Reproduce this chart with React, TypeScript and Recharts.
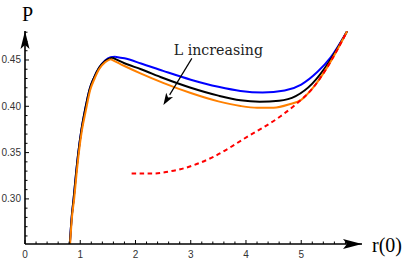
import { LineChart, Line, XAxis, YAxis, ReferenceDot, ReferenceLine } from "recharts";

// tick labels
const xMajorTicks = [0, 1, 2, 3, 4, 5];
const yMajorTicks = [0.3, 0.35, 0.4, 0.45];
const xMinorTicks = Array.from({ length: 30 }, (_, i) => +(i * 0.2).toFixed(1));
const yMinorTicks = Array.from({ length: 23 }, (_, i) => +(0.26 + i * 0.01).toFixed(2));

// blue curve (smallest L)
const blueX = [0.81, 0.845, 0.88, 0.92, 0.965, 1.02, 1.09, 1.17, 1.25, 1.34, 1.45, 1.55, 1.63, 1.8, 2.1, 2.5, 3.0, 3.5, 3.9, 4.3, 4.7, 5.0, 5.3, 5.53, 5.83];
const blueY = [0.25, 0.28, 0.3, 0.325, 0.35, 0.374, 0.397, 0.4185, 0.431, 0.4415, 0.4495, 0.453, 0.4536, 0.4518, 0.4462, 0.4382, 0.4287, 0.421, 0.4165, 0.4148, 0.417, 0.4235, 0.4375, 0.4525, 0.481];

// black curve
const blackX = [0.81, 0.845, 0.88, 0.92, 0.965, 1.02, 1.09, 1.17, 1.25, 1.34, 1.45, 1.58, 1.8, 2.1, 2.5, 3.0, 3.5, 3.9, 4.25, 4.6, 4.9, 5.2, 5.5, 5.83];
const blackY = [0.25, 0.28, 0.3, 0.325, 0.35, 0.374, 0.397, 0.4185, 0.431, 0.4415, 0.449, 0.4525, 0.4465, 0.44, 0.4305, 0.42, 0.4115, 0.4065, 0.405, 0.406, 0.411, 0.4245, 0.4475, 0.481];

// orange curve (largest L)
const orangeX = [0.815, 0.85, 0.89, 0.93, 0.975, 1.03, 1.1, 1.18, 1.26, 1.34, 1.45, 1.55, 1.8, 2.1, 2.5, 3.0, 3.5, 3.9, 4.2, 4.5, 4.8, 5.0, 5.2, 5.5, 5.83];
const orangeY = [0.25, 0.28, 0.3, 0.325, 0.35, 0.374, 0.395, 0.4175, 0.43, 0.44, 0.4475, 0.451, 0.4435, 0.4353, 0.4253, 0.4143, 0.4053, 0.4003, 0.3985, 0.3985, 0.4025, 0.407, 0.419, 0.445, 0.481];

// red dashed curve
const redX = [1.93, 2.32, 2.6, 2.81, 3.41, 4.02, 4.62, 4.89, 5.2, 5.5, 5.83];
const redY = [0.3274, 0.3274, 0.3295, 0.332, 0.3454, 0.367, 0.389, 0.4015, 0.419, 0.445, 0.481];

const zip = (xs: number[], ys: number[]) => xs.map((x, i) => ({ x, y: ys[i] }));
const peakAt = (ys: number[]) => ys.indexOf(Math.max(...ys.slice(0, 15)));

const serif = "'Liberation Serif', 'Times New Roman', serif";
const sans = "'Liberation Sans', Arial, sans-serif";

const XTick = ({ x, y, payload }: any) => {
  const v = payload.value;
  const major = Math.abs(v - Math.round(v)) < 1e-6;
  return (
    <g>
      <line x1={x} y1={y} x2={x} y2={y - (major ? 4 : 2.5)} stroke="#000" strokeWidth={1} />
      {major && (
        <text x={x} y={y + 14} textAnchor="middle" fontSize={10} fontFamily={sans} fill="#333">
          {v}
        </text>
      )}
    </g>
  );
};

const YTick = ({ x, y, payload }: any) => {
  const v = payload.value;
  const major = yMajorTicks.some((m) => Math.abs(m - v) < 1e-6);
  return (
    <g>
      <line x1={x} y1={y} x2={x + (major ? 4 : 2.5)} y2={y} stroke="#000" strokeWidth={1} />
      {major && (
        <text x={x - 4} y={y + 3.5} textAnchor="end" fontSize={10} fontFamily={sans} fill="#333">
          {v.toFixed(2)}
        </text>
      )}
    </g>
  );
};

// split at the peak so the corner there stays sharp
const curve = (key: string, xs: number[], ys: number[], color: string) => {
  const p = peakAt(ys);
  const common = { dataKey: "y", stroke: color, strokeWidth: 2, dot: false, isAnimationActive: false, type: "monotone" } as const;
  return [
    <Line key={key + "-rise"} {...common} data={zip(xs.slice(0, p + 1), ys.slice(0, p + 1))} />,
    <Line key={key + "-fall"} {...common} data={zip(xs.slice(p), ys.slice(p))} />,
  ];
};

export default function App() {
  return (
    <div style={{ position: "absolute", left: 0, top: 0, background: "#fff" }}>
      <LineChart width={405} height={261} margin={{ top: 31, right: 43, left: 0, bottom: 0 }}>
        <XAxis
          type="number"
          dataKey="x"
          domain={[0, 6.1]}
          ticks={[...xMajorTicks, ...xMinorTicks.filter((t) => !xMajorTicks.includes(t))].sort((a, b) => a - b)}
          interval={0}
          allowDataOverflow
          height={17}
          tickSize={0}
          tickMargin={0}
          tickLine={false}
          axisLine={{ stroke: "#000", strokeWidth: 1.6 }}
          tick={(p: any) => <XTick {...p} />}
        />
        <YAxis
          type="number"
          dataKey="y"
          domain={[0.2513, 0.4813]}
          ticks={yMinorTicks}
          interval={0}
          allowDataOverflow
          width={25}
          tickSize={0}
          tickMargin={0}
          tickLine={false}
          axisLine={{ stroke: "#000", strokeWidth: 1.6 }}
          tick={(p: any) => <YTick {...p} />}
        />
        {curve("blue", blueX, blueY, "#0000ff")}
        {curve("black", blackX, blackY, "#000000")}
        {curve("orange", orangeX, orangeY, "#ff8000")}
        <Line data={zip(redX, redY)} dataKey="y" type="monotone" stroke="#ff0000" strokeWidth={2} strokeDasharray="4.5 3.5" dot={false} isAnimationActive={false} />

        {/* annotation arrow */}
        <ReferenceLine
          segment={[{ x: 3.02, y: 0.4518 }, { x: 2.505, y: 0.4013 }]}
          ifOverflow="visible"
          shape={(p: any) => {
            const { x1, y1, x2, y2 } = p;
            const dx = x2 - x1, dy = y2 - y1;
            const len = Math.hypot(dx, dy);
            const ux = dx / len, uy = dy / len;
            const hl = 12, hw = 4;
            const bx = x2 - ux * hl, by = y2 - uy * hl;
            return (
              <g>
                <line x1={x1} y1={y1} x2={bx} y2={by} stroke="#000" strokeWidth={1.2} />
                <polygon
                  points={`${x2},${y2} ${bx - uy * hw},${by + ux * hw} ${x2 - ux * hl * 0.75},${y2 - uy * hl * 0.75} ${bx + uy * hw},${by - ux * hw}`}
                  fill="#000"
                />
              </g>
            );
          }}
        />
        <ReferenceDot
          x={3.5}
          y={0.4559}
          ifOverflow="visible"
          shape={(p: any) => (
            <text x={p.cx} y={p.cy} textAnchor="middle" fontSize={14.2} fontFamily="'DejaVu Serif', serif" fill="#222">
              L increasing
            </text>
          )}
        />
        {/* x axis arrowhead and label */}
        <ReferenceDot
          x={6.1}
          y={0.2513}
          ifOverflow="visible"
          shape={(p: any) => (
            <g>
              <polygon points={`${p.cx},${p.cy} ${p.cx - 19},${p.cy - 5} ${p.cx - 15},${p.cy} ${p.cx - 19},${p.cy + 5}`} fill="#000" />
              <text x={p.cx + 10} y={p.cy + 8} fontSize={20} fontFamily={serif} fill="#000">
                r(0)
              </text>
            </g>
          )}
        />
        {/* y axis arrowhead and label */}
        <ReferenceDot
          x={0}
          y={0.4813}
          ifOverflow="visible"
          shape={(p: any) => (
            <g>
              <polygon points={`${p.cx},${p.cy} ${p.cx - 4.5},${p.cy + 18} ${p.cx},${p.cy + 14} ${p.cx + 4.5},${p.cy + 18}`} fill="#000" />
              <text x={p.cx + 2.5} y={p.cy - 10} textAnchor="middle" fontSize={20} fontFamily={serif} fill="#000">
                P
              </text>
            </g>
          )}
        />
      </LineChart>
    </div>
  );
}
